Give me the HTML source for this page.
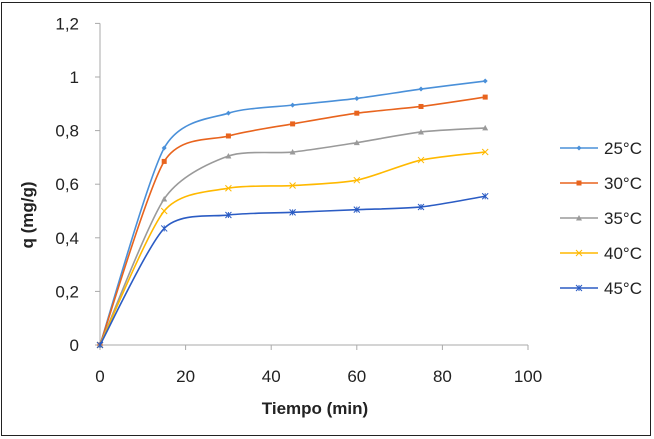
<!DOCTYPE html>
<html><head><meta charset="utf-8"><style>
body{margin:0;background:#fff;}
svg{display:block;font-family:"Liberation Sans",sans-serif;}
</style></head><body>
<svg id="chart" width="654" height="439">
<rect x="1.5" y="2.5" width="649" height="433" fill="#fff" stroke="#222" stroke-width="1"/>
<g id="axes"></g><g id="series"></g><g id="legend"></g>
<text x="33" y="215" transform="rotate(-90 33 215)" text-anchor="middle" font-size="17" font-weight="bold" fill="#222">q (mg/g)</text>
<text x="315" y="414" text-anchor="middle" font-size="17" font-weight="bold" fill="#222">Tiempo (min)</text>
</svg>
<script>
const xVals=[0,15,30,45,60,75,90];
const s25=[0,0.735,0.865,0.895,0.92,0.955,0.985];
const s30=[0,0.685,0.78,0.825,0.865,0.89,0.925];
const s35=[0,0.545,0.705,0.72,0.755,0.795,0.81];
const s40=[0,0.50,0.585,0.595,0.615,0.69,0.72];
const s45=[0,0.435,0.485,0.495,0.505,0.515,0.555];
const seriesNames=["25°C","30°C","35°C","40°C","45°C"];
const xTicks=[0,20,40,60,80,100];
const yTicks=[0,0.2,0.4,0.6,0.8,1,1.2];
const yTickLabels=["0","0,2","0,4","0,6","0,8","1","1,2"];

const NS="http://www.w3.org/2000/svg";
const X=v=>100+v*4.28;
const Y=v=>345-v*268;
function mk(tag,attrs,parent){const e=document.createElementNS(NS,tag);for(const k in attrs)e.setAttribute(k,attrs[k]);parent.appendChild(e);return e;}
const axes=document.getElementById('axes');
let a=mk('line',{x1:X(0),y1:Y(0),x2:X(100),y2:Y(0),stroke:'#aaa'},axes);


a=mk('line',{x1:X(0),y1:Y(0),x2:X(0),y2:Y(1.2),stroke:'#aaa'},axes);


xTicks.forEach(t=>{
 mk('line',{x1:X(t),y1:Y(0),x2:X(t),y2:Y(0)+5,stroke:'#aaa'},axes);
 const tx=mk('text',{x:X(t),y:382,'text-anchor':'middle','font-size':17,fill:'#222'},axes);
 tx.textContent=t;
 
 
});
yTicks.forEach((t,i)=>{
 mk('line',{x1:X(0)-5,y1:Y(t),x2:X(0),y2:Y(t),stroke:'#aaa'},axes);
 const tx=mk('text',{x:79,y:Y(t)+6,'text-anchor':'end','font-size':17,fill:'#222'},axes);
 tx.textContent=yTickLabels[i];
 
 
});
const colors=["#4a90d9","#e8641e","#9a9a9a","#ffb900","#2b5cc4"];
const markers=["diamond","square","triangle","x","star"];
const data=[s25,s30,s35,s40,s45];
function marker(type,cx,cy,c,p){
 if(type==='diamond')return mk('path',{d:`M${cx} ${cy-2.5}L${cx+2.5} ${cy}L${cx} ${cy+2.5}L${cx-2.5} ${cy}Z`,fill:c},p);
 if(type==='square')return mk('rect',{x:cx-2.5,y:cy-2.5,width:5,height:5,fill:c},p);
 if(type==='triangle')return mk('path',{d:`M${cx} ${cy-3}L${cx+3} ${cy+2.5}L${cx-3} ${cy+2.5}Z`,fill:c},p);
 if(type==='x')return mk('path',{d:`M${cx-3} ${cy-3}L${cx+3} ${cy+3}M${cx+3} ${cy-3}L${cx-3} ${cy+3}`,stroke:c,'stroke-width':1,fill:'none'},p);
 return mk('path',{d:`M${cx-3} ${cy-3}L${cx+3} ${cy+3}M${cx+3} ${cy-3}L${cx-3} ${cy+3}M${cx} ${cy-3}V${cy+3}`,stroke:c,'stroke-width':1,fill:'none'},p);
}
const sg=document.getElementById('series');
data.forEach((arr,si)=>{
 const g=mk('g',{},sg);
 
 
 const P=xVals.map((x,i)=>[X(x),Y(arr[i])]);
 let d=`M${P[0][0]} ${P[0][1]}`;
 const k=8;
 for(let i=0;i<P.length-1;i++){
  const p0=P[Math.max(0,i-1)],p1=P[i],p2=P[i+1],p3=P[Math.min(P.length-1,i+2)];
  const c1=[p1[0]+(p2[0]-p0[0])/k,p1[1]+(p2[1]-p0[1])/k];
  const c2=[p2[0]-(p3[0]-p1[0])/k,p2[1]-(p3[1]-p1[1])/k];
  d+=`C${c1[0]} ${c1[1]} ${c2[0]} ${c2[1]} ${p2[0]} ${p2[1]}`;
 }
 mk('path',{d,fill:'none',stroke:colors[si],'stroke-width':1.6},g);
 P.forEach(p=>{const m=marker(markers[si],p[0],p[1],colors[si],g);
  
  });
});
const lg=document.getElementById('legend');
seriesNames.forEach((n,i)=>{
 const y=148+i*35;
 const g=mk('g',{},lg);
 
 
 mk('line',{x1:560,y1:y,x2:598,y2:y,stroke:colors[i],'stroke-width':1.6},g);
 marker(markers[i],579,y,colors[i],g);
 const t=mk('text',{x:604,y:y+6,'font-size':17,fill:'#222'},g);
 t.textContent=n;
});
</script>
</body></html>
